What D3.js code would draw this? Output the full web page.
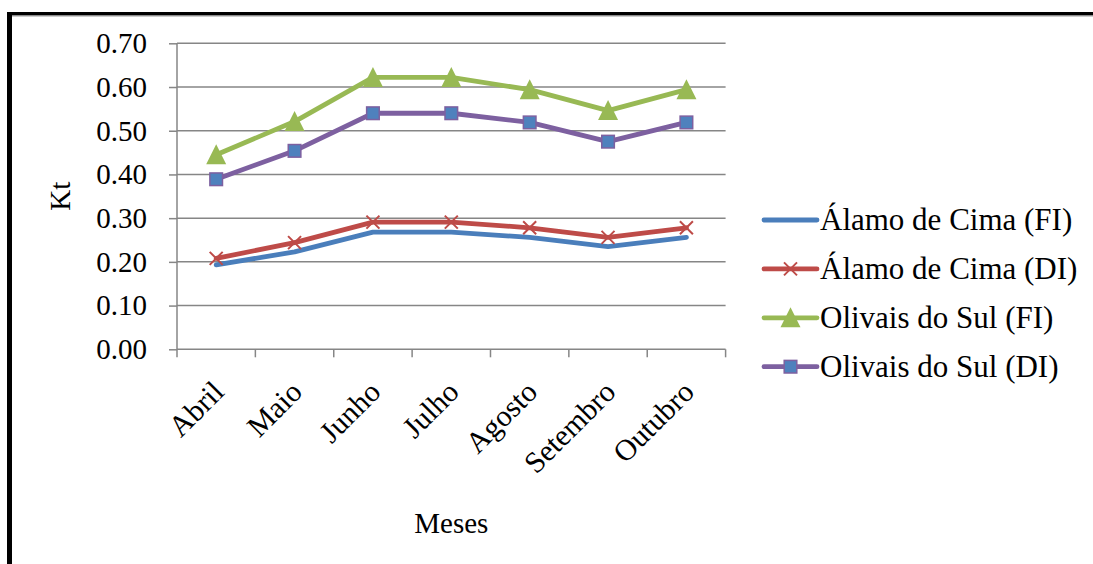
<!DOCTYPE html>
<html><head><meta charset="utf-8">
<script src="https://cdn.jsdelivr.net/npm/d3@7/dist/d3.min.js"></script>
<style>body{margin:0;background:#fff}svg{display:block}text{font-family:"Liberation Serif","Times New Roman",serif;fill:#000}</style>
</head><body><svg id="c" width="1093" height="564"></svg>
<script>
const months = ["Abril","Maio","Junho","Julho","Agosto","Setembro","Outubro"];
const alamoFI = [0.193,0.223,0.268,0.268,0.256,0.235,0.256];
const alamoDI = [0.208,0.244,0.291,0.291,0.278,0.256,0.278];
const olivaisFI = [0.445,0.521,0.622,0.622,0.594,0.546,0.594];
const olivaisDI = [0.389,0.454,0.540,0.540,0.519,0.475,0.519];
const yTicks = [0,0.1,0.2,0.3,0.4,0.5,0.6,0.7];
const seriesNames = ["Álamo de Cima (FI)","Álamo de Cima (DI)","Olivais do Sul (FI)","Olivais do Sul (DI)"];

const series = [
  {name:seriesNames[0], values:alamoFI, color:"#4a7ebb", marker:"none"},
  {name:seriesNames[1], values:alamoDI, color:"#be4b48", marker:"x"},
  {name:seriesNames[2], values:olivaisFI, color:"#98b954", marker:"tri"},
  {name:seriesNames[3], values:olivaisDI, color:"#7d60a0", marker:"sq"}
];

const svg = d3.select("#c");
const L=177, R=725.6, T=43.3, B=349.3;
const x = d3.scaleBand().domain(months).range([L,R]);
const y = d3.scaleLinear().domain([0,0.7]).range([B,T]);
const FF = '"Liberation Serif","Times New Roman",serif';

// frame
svg.append("rect").attr("x",7).attr("y",12).attr("width",5).attr("height",560).attr("fill","#000");
svg.append("rect").attr("x",7).attr("y",12).attr("width",1100).attr("height",3.5).attr("fill","#000");
svg.append("rect").attr("x",12).attr("y",15.5).attr("width",1100).attr("height",1).attr("fill","#999");

// gridlines
svg.append("g").selectAll("line").data(yTicks.slice(1)).join("line")
  .attr("x1",L).attr("x2",R).attr("y1",d=>y(d)).attr("y2",d=>y(d))
  .attr("stroke","#868686").attr("stroke-width",1.5);

// y axis
const ya = svg.append("g").attr("transform",`translate(${L},0)`)
  .call(d3.axisLeft(y).tickValues(yTicks).tickFormat(d3.format(".2f")).tickSize(8).tickPadding(22));
ya.attr("font-family",null).attr("font-size",null);
ya.select(".domain").attr("stroke","#868686").attr("stroke-width",1.5).attr("d",`M0,${T}V${B}`);
ya.selectAll(".tick line").attr("stroke","#868686").attr("stroke-width",1.5);
ya.selectAll("text").style("font-size","29px").style("font-family",FF).attr("fill","#000");

// x axis
const xa = svg.append("g").attr("transform",`translate(0,${B})`)
  .call(d3.axisBottom(x).tickSize(0).tickFormat(""));
xa.attr("font-family",null).attr("font-size",null);
xa.select(".domain").attr("stroke","#868686").attr("stroke-width",1.5).attr("d",`M${L},0H${R}`);
xa.selectAll(".tick").remove();
const edges = months.map(m=>x(m)).concat([R]);
xa.selectAll("line.t").data(edges).join("line").attr("class","t")
  .attr("x1",d=>d).attr("x2",d=>d).attr("y1",0).attr("y2",8)
  .attr("stroke","#868686").attr("stroke-width",1.5);
xa.selectAll("text.m").data(months).join("text").attr("class","m")
  .attr("transform",d=>`translate(${x(d)+x.bandwidth()/2+2},${37}) rotate(-45)`)
  .attr("text-anchor","end").attr("dy","0.35em")
  .style("font-size","30px").style("font-family",FF).text(d=>d);

// axis titles
svg.append("text").attr("x",(L+R)/2).attr("y",533).attr("text-anchor","middle").style("font-size","29px").style("font-family",FF).text("Meses");
svg.append("text").attr("transform",`translate(70,${(T+B)/2}) rotate(-90)`).attr("text-anchor","middle").style("font-size","29px").style("font-family",FF).text("Kt");

// lines
const cx = i=>x(months[i])+x.bandwidth()/2;
const line = d3.line().x((d,i)=>cx(i)).y(d=>y(d));
function marker(g, type, color, px, py){
  if(type==="x"){
    const s=6.5;
    g.append("path").attr("d",`M${px-s},${py-s}L${px+s},${py+s}M${px-s},${py+s}L${px+s},${py-s}`)
     .attr("stroke",color).attr("stroke-width",2).attr("fill","none");
  } else if(type==="tri"){
    const s=10;
    g.append("path").attr("d",`M${px},${py-s*1.05}L${px+s},${py+s*0.95}L${px-s},${py+s*0.95}Z`).attr("fill",color);
  } else if(type==="sq"){
    const s=6.3;
    g.append("rect").attr("x",px-s).attr("y",py-s).attr("width",2*s).attr("height",2*s)
     .attr("fill","#4f81bd").attr("stroke",color).attr("stroke-width",1.5);
  }
}
series.forEach(s=>{
  const g = svg.append("g");
  g.append("path").datum(s.values).attr("d",line).attr("fill","none")
   .attr("stroke",s.color).attr("stroke-width",4.8).attr("stroke-linejoin","round").attr("stroke-linecap","round");
  s.values.forEach((v,i)=>marker(g,s.marker,s.color,cx(i),y(v)));
});

// legend
const lg = svg.append("g");
series.forEach((s,i)=>{
  const ly = 220 + i*48.9;
  const g = lg.append("g");
  g.append("line").attr("x1",764).attr("x2",817).attr("y1",ly).attr("y2",ly)
   .attr("stroke",s.color).attr("stroke-width",4.8).attr("stroke-linecap","round");
  marker(g,s.marker,s.color,790.5,ly);
  g.append("text").attr("x",820).attr("y",ly).attr("dy","0.33em").style("font-size","31px").style("font-family",FF).text(s.name);
});
</script></body></html>
